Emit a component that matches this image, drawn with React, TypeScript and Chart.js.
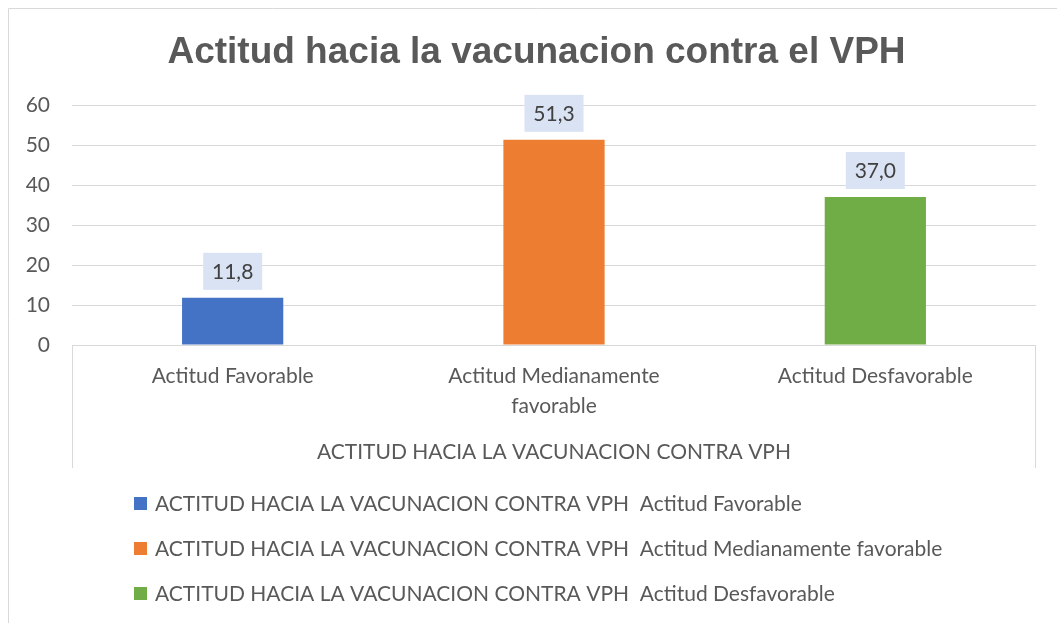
import React, { useEffect, useRef } from "react";
import { Chart, registerables } from "chart.js";

Chart.register(...registerables);

const title = "Actitud hacia la vacunacion contra el VPH";
const groupLabel = "ACTITUD HACIA LA VACUNACION CONTRA VPH";
const categories = ["Actitud Favorable", "Actitud Medianamente favorable", "Actitud Desfavorable"];
const categoryLines = [["Actitud Favorable"], ["Actitud Medianamente", "favorable"], ["Actitud Desfavorable"]];
const values = [11.8, 51.3, 37.0];
const valueLabels = ["11,8", "51,3", "37,0"];
const colors = ["#4472C4", "#ED7D31", "#70AD47"];
const yTicks = [0, 10, 20, 30, 40, 50, 60];

const FONT = "Lato";
const FS = 21;
const TEXT = "#595959";
const LINE = "#D9D9D9";

const decorPlugin = {
  id: "decor",
  beforeDraw(chart: any) {
    const { ctx, width, height } = chart;
    ctx.save();
    ctx.fillStyle = "#fff";
    ctx.fillRect(0, 0, width, height);
    ctx.strokeStyle = LINE;
    ctx.lineWidth = 1;
    ctx.beginPath();
    ctx.moveTo(0.5, height);
    ctx.lineTo(0.5, 0.5);
    ctx.lineTo(width, 0.5);
    ctx.stroke();
    // title
    ctx.fillStyle = TEXT;
    ctx.font = "bold 37px 'Liberation Sans', Arial, sans-serif";
    ctx.textAlign = "center";
    ctx.textBaseline = "alphabetic";
    ctx.fillText(title, width / 2, 55);
    ctx.restore();
  },
  afterDraw(chart: any) {
    const { ctx, chartArea } = chart;
    const { left, right, bottom } = chartArea;
    const xs = chart.scales.x;
    ctx.save();
    // axis box lines
    ctx.strokeStyle = LINE;
    ctx.lineWidth = 1;
    ctx.beginPath();
    ctx.moveTo(Math.round(left) + 0.5, Math.round(bottom));
    ctx.lineTo(Math.round(left) + 0.5, bottom + 123);
    ctx.moveTo(Math.round(right) - 0.5, Math.round(bottom));
    ctx.lineTo(Math.round(right) - 0.5, bottom + 123);
    ctx.stroke();
    // category labels
    ctx.fillStyle = TEXT;
    ctx.font = `${FS}px ${FONT}`;
    ctx.textAlign = "center";
    ctx.textBaseline = "alphabetic";
    categoryLines.forEach((lines, i) => {
      const x = xs.getPixelForValue(i);
      lines.forEach((t, j) => ctx.fillText(t, x, bottom + 38 + j * 30));
    });
    ctx.fillText(groupLabel, (left + right) / 2, bottom + 114);

    // data labels
    const meta = chart.getDatasetMeta(0);
    meta.data.forEach((bar: any, i: number) => {
      const bw = 59, bh = 37;
      const bx = bar.x - bw / 2;
      const by = bar.y - 8 - bh;
      ctx.fillStyle = "#DAE3F3";
      ctx.fillRect(bx, by, bw, bh);
      ctx.fillStyle = "#404040";
      ctx.font = `${FS}px ${FONT}`;
      ctx.textAlign = "center";
      ctx.textBaseline = "middle";
      ctx.fillText(valueLabels[i], bar.x, by + bh / 2 + 1);
    });

    // legend
    ctx.textAlign = "left";
    ctx.textBaseline = "alphabetic";
    ctx.font = `${FS}px ${FONT}`;
    categories.forEach((c, i) => {
      const cy = 495 + i * 45;
      ctx.fillStyle = colors[i];
      ctx.fillRect(126, cy - 6, 13, 13);
      ctx.fillStyle = TEXT;
      ctx.fillText(`${groupLabel}  ${c}`, 147, cy + 8);
    });
    ctx.restore();
  },
};

export default function App() {
  const ref = useRef<HTMLCanvasElement>(null);
  useEffect(() => {
    if (!ref.current) return;
    const chart = new Chart(ref.current, {
      type: "bar",
      data: {
        labels: categories,
        datasets: [
          {
            label: groupLabel,
            data: values,
            backgroundColor: colors,
            barPercentage: 0.315,
            categoryPercentage: 1,
          },
        ],
      },
      options: {
        responsive: false,
        animation: false,
        devicePixelRatio: 1,
        layout: { padding: { left: 14, top: 97, right: 29, bottom: 286 } },
        plugins: {
          legend: { display: false },
          title: { display: false },
          tooltip: { enabled: false },
        },
        scales: {
          x: { display: false, offset: true },
          y: {
            min: 0,
            max: 60,
            afterFit(scale: any) {
              scale.width = 50;
            },
            afterBuildTicks(scale: any) {
              scale.ticks = yTicks.map((v) => ({ value: v }));
            },
            border: { display: false },
            grid: { color: LINE, lineWidth: 1, drawTicks: false },
            ticks: {
              padding: 22,
              color: TEXT,
              font: { family: FONT, size: FS },
            },
          },
        },
      },
      plugins: [decorPlugin],
    });
    return () => chart.destroy();
  }, []);
  return (
    <div style={{ position: "absolute", left: 0, top: 0, width: 1057, height: 623, overflow: "hidden", background: "#fff" }}>
      <canvas ref={ref} width={1057} height={623} style={{ position: "absolute", left: 8, top: 8, display: "block" }} />
    </div>
  );
}
